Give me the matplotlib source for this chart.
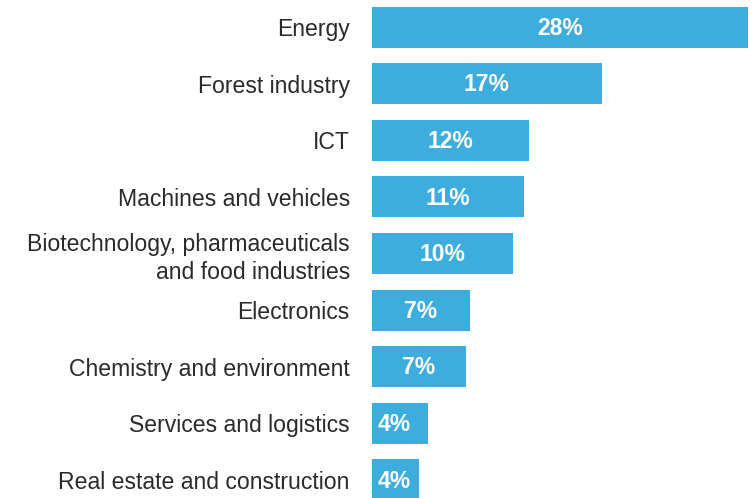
import matplotlib
matplotlib.use("Agg")
import matplotlib.pyplot as plt

categories = ["Energy", "Forest industry", "ICT", "Machines and vehicles",
              "Biotechnology, pharmaceuticals\nand food industries", "Electronics",
              "Chemistry and environment", "Services and logistics",
              "Real estate and construction"]
values = [28.0, 17.1, 11.7, 11.3, 10.5, 7.3, 7.0, 4.2, 3.5]
labels = ["28%", "17%", "12%", "11%", "10%", "7%", "7%", "4%", "4%"]

plt.rcParams['font.family'] = ['Liberation Sans', 'DejaVu Sans']

fig = plt.figure(figsize=(7.55, 4.98), dpi=100)
ax = fig.add_axes([372/755, 0, 376/755, 1])
color = "#3dadde"
y = list(range(len(categories)))
ax.barh(y, values, height=0.724, color=color)
ax.set_xlim(0, 28)
ax.set_ylim(8.318, -0.477)
ax.set_yticks(y)
ax.set_yticklabels(categories, fontsize=16.6, color="#2a2a2a", linespacing=1.25)
for t in ax.get_yticklabels():
    t.set_multialignment('right')
ax.tick_params(axis='y', length=0, pad=16)
ax.set_xticks([])
for s in ax.spines.values():
    s.set_visible(False)
for yi, v, lab in zip(y, values, labels):
    xpos = v / 2 if v >= 5 else 1.65
    ax.text(xpos, yi + 0.02, lab, ha='center', va='center', color='white',
            fontsize=16.5, fontweight='bold')
fig.savefig("out.png", dpi=100)
